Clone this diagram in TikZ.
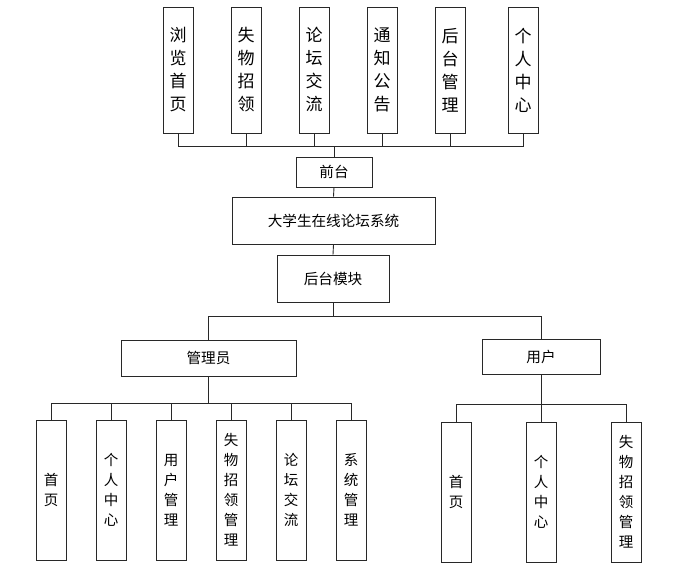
\documentclass[tikz,border=0pt]{standalone}
\usepackage{fontspec}
\setmainfont{Noto Sans CJK SC}
\usetikzlibrary{positioning,calc}
\definecolor{linegray}{RGB}{40,40,40}

\tikzset{
  box/.style={draw=linegray,line width=0.9pt,inner sep=0pt,align=center},
  tallbox/.style={box,minimum width=30pt,minimum height=126pt,
    font=\fontsize{17}{23}\selectfont},
  leafbox/.style={box,minimum width=30pt,minimum height=140pt,
    font=\fontsize{14.5}{20}\selectfont},
  wide/.style={box,font=\fontsize{14.6}{17}\selectfont},
  link/.style={draw=linegray,line width=0.9pt}
}

\begin{document}
\begin{tikzpicture}[x=1pt,y=-1pt]
\useasboundingbox (0,0) rectangle (691,585);

% front part
\foreach \n/\x/\t in {1/178/浏\\览\\首\\页, 2/246/失\\物\\招\\领, 3/314/论\\坛\\交\\流,
  4/382/通\\知\\公\\告, 5/450/后\\台\\管\\理, 6/523/个\\人\\中\\心}
  \node[tallbox] (top\n) at (\x,70) {\t};
\node[wide,minimum width=76pt,minimum height=30pt] (front) at (334,172) {前台};
\node[wide,minimum width=203pt,minimum height=47pt] (sys) at (333.5,220.5) {大学生在线论坛系统};
\node[wide,minimum width=112pt,minimum height=47pt] (back) at (333,278.5) {后台模块};

\coordinate (busT) at ($(front.north)+(0,-10)$);
\foreach \n in {1,...,6}
  \draw[link] (top\n.south) |- (busT);
\draw[link] (busT) -- (front.north);
\draw[link] (front.south) -- (sys.north);

% back part
\node[wide,minimum width=175pt,minimum height=36pt] (admin) at (208.5,358) {管理员};
\node[wide,minimum width=118pt,minimum height=35pt] (user) at (541,356.5) {用户};
\draw[link] (sys.south) -- (back.north);
\coordinate (busM) at ($(back.south)+(0,14)$);
\draw[link] (back.south) -- (busM);
\draw[link] (admin.north) |- (busM);
\draw[link] (user.north) |- (busM);

\foreach \n/\x/\t in {1/51/首\\页, 2/111/个\\人\\中\\心, 3/171/用\\户\\管\\理,
  4/231/失\\物\\招\\领\\管\\理, 5/291/论\\坛\\交\\流, 6/351/系\\统\\管\\理}
  \node[leafbox] (adm\n) at (\x,490) {\t};
\coordinate (busA) at ($(admin.south)+(0,27)$);
\draw[link] (admin.south) -- (busA);
\foreach \n in {1,...,6}
  \draw[link] (adm\n.north) |- (busA);

\foreach \n/\x/\t in {1/456/首\\页, 2/541/个\\人\\中\\心, 3/626/失\\物\\招\\领\\管\\理}
  \node[leafbox] (usr\n) at (\x,492) {\t};
\coordinate (busU) at ($(user.south)+(0,30)$);
\draw[link] (user.south) -- (busU);
\foreach \n in {1,2,3}
  \draw[link] (usr\n.north) |- (busU);
\end{tikzpicture}
\end{document}
